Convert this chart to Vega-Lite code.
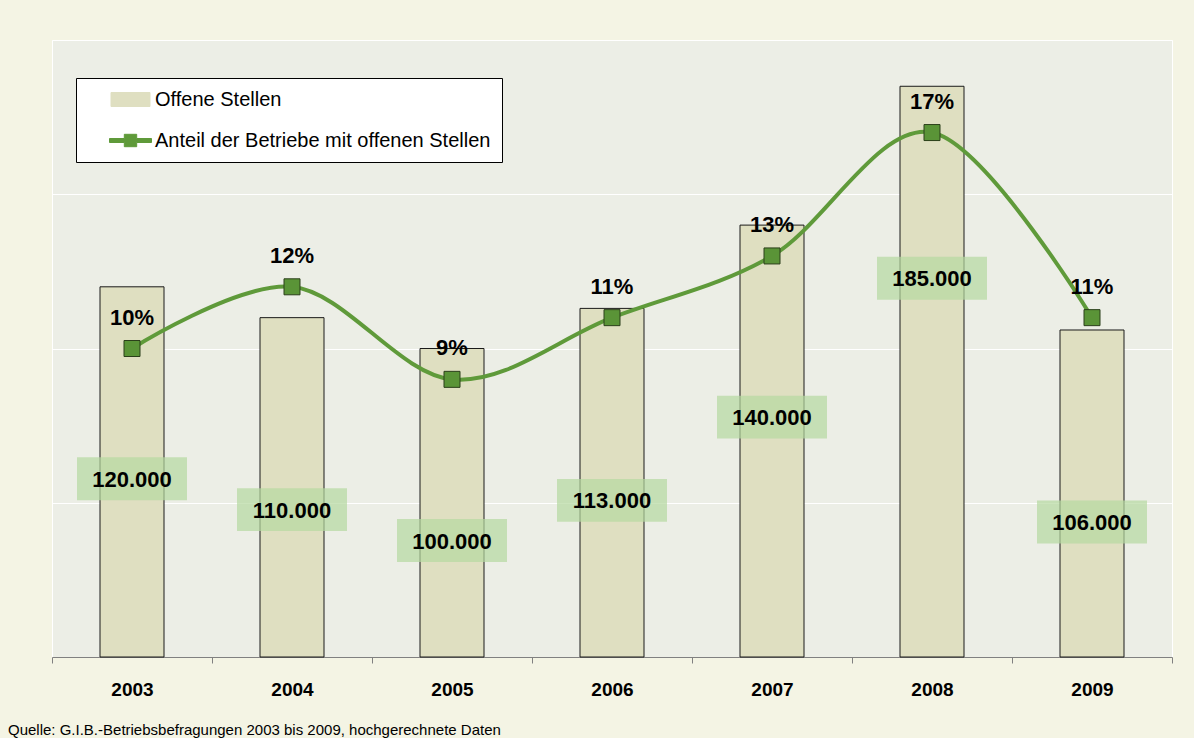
{
  "$schema": "https://vega.github.io/schema/vega-lite/v6.json",
  "width": 1120,
  "height": 617,
  "padding": {"left": 8, "top": 40, "right": 22, "bottom": 0},
  "background": "#f4f4e4",
  "config": {
    "locale": {"number": {"decimal": ",", "thousands": ".", "grouping": [3], "currency": ["", " €"]}},
    "font": "Liberation Sans",
    "view": {"fill": "#eceee6", "stroke": "white", "strokeWidth": 1},
    "legend": {
      "orient": "none",
      "legendX": 24,
      "legendY": 38,
      "fillColor": "white",
      "strokeColor": "black",
      "padding": 11,
      "rowPadding": 20,
      "labelFontSize": 20,
      "labelFont": "Liberation Sans",
      "labelColor": "black",
      "labelLimit": 800,
      "symbolOffset": 33,
      "labelOffset": 14,
      "symbolSize": 400,
      "symbolStrokeWidth": 1,
      "symbolOpacity": 1,
      "symbolType": {"expr": "datum.value == 'Offene Stellen' ? 'M-1.95,-0.7H1.95V0.7H-1.95Z' : 'M-2.1,-0.2H-0.62V-0.62H0.62V-0.2H2.1V0.2H0.62V0.62H-0.62V0.2H-2.1Z'"},
      "symbolStrokeColor": {"expr": "datum.value == 'Offene Stellen' ? '#222222' : '#3a5e25'"}
    }
  },
  "title": {
    "text": "Quelle: G.I.B.-Betriebsbefragungen 2003 bis 2009, hochgerechnete Daten",
    "orient": "bottom",
    "anchor": "start",
    "frame": "group",
    "offset": 31,
    "dx": -44,
    "fontSize": 15,
    "fontWeight": "normal",
    "color": "black",
    "font": "Liberation Sans",
    "baseline": "middle"
  },
  "data": {
    "values": [
      {"jahr": "2003", "stellen": 120000, "anteil": 0.10},
      {"jahr": "2004", "stellen": 110000, "anteil": 0.12},
      {"jahr": "2005", "stellen": 100000, "anteil": 0.09},
      {"jahr": "2006", "stellen": 113000, "anteil": 0.11},
      {"jahr": "2007", "stellen": 140000, "anteil": 0.13},
      {"jahr": "2008", "stellen": 185000, "anteil": 0.17},
      {"jahr": "2009", "stellen": 106000, "anteil": 0.11}
    ]
  },
  "encoding": {
    "x": {
      "field": "jahr",
      "type": "nominal",
      "scale": {"paddingInner": 0, "paddingOuter": 0},
      "axis": {
        "title": null,
        "labelAngle": 0,
        "labelFontSize": 19,
        "labelFontWeight": "bold",
        "labelColor": "black",
        "labelFont": "Liberation Sans",
        "labelBaseline": "middle",
        "labelAlign": "center",
        "labelPadding": 26,
        "tickBand": "extent",
        "tickSize": 6,
        "tickColor": "#808080",
        "domainColor": "#808080",
        "grid": false
      }
    }
  },
  "layer": [
    {
      "mark": {"type": "bar", "width": {"band": 0.4}, "stroke": "#1a1a1a", "strokeWidth": 1},
      "encoding": {
        "y": {
          "field": "stellen",
          "type": "quantitative",
          "scale": {"domain": [0, 200000], "nice": false},
          "axis": {
            "title": null,
            "labels": false,
            "ticks": false,
            "domain": false,
            "grid": true,
            "gridColor": "white",
            "gridWidth": 1,
            "gridOpacity": 1,
            "values": [50000, 100000, 150000, 200000]
          }
        },
        "color": {
          "datum": "Offene Stellen",
          "scale": {
            "domain": ["Offene Stellen", "Anteil der Betriebe mit offenen Stellen"],
            "range": ["#dfdfc1", "#5f9a3a"]
          },
          "legend": {"title": null}
        }
      }
    },
    {
      "mark": {"type": "point", "shape": "M-1,-0.39H1V0.39H-1Z", "size": 12100, "filled": true, "fill": "#b5d9a0", "opacity": 0.7, "strokeWidth": 0, "yOffset": 192},
      "encoding": {
        "y": {"field": "stellen", "type": "quantitative", "scale": {"domain": [0, 200000], "nice": false}, "axis": null}
      }
    },
    {
      "mark": {"type": "text", "dy": 193, "fontSize": 22, "fontWeight": "bold", "baseline": "middle", "align": "center", "color": "black", "font": "Liberation Sans"},
      "encoding": {
        "y": {"field": "stellen", "type": "quantitative", "scale": {"domain": [0, 200000], "nice": false}, "axis": null},
        "text": {"field": "stellen", "type": "quantitative", "format": ",d"}
      }
    },
    {
      "mark": {"type": "line", "interpolate": "cardinal", "tension": 0, "strokeWidth": 4},
      "encoding": {
        "y": {"field": "anteil", "type": "quantitative", "scale": {"domain": [0, 0.2], "nice": false}, "axis": null},
        "color": {"datum": "Anteil der Betriebe mit offenen Stellen", "legend": {"title": null}}
      }
    },
    {
      "mark": {"type": "point", "shape": "square", "size": 256, "filled": true, "fill": "#5a9437", "stroke": "#2b3f1a", "strokeWidth": 1, "opacity": 1},
      "encoding": {
        "y": {"field": "anteil", "type": "quantitative", "scale": {"domain": [0, 0.2], "nice": false}, "axis": null}
      }
    },
    {
      "mark": {"type": "text", "dy": -31, "fontSize": 22, "fontWeight": "bold", "baseline": "middle", "align": "center", "color": "black", "font": "Liberation Sans"},
      "encoding": {
        "y": {"field": "anteil", "type": "quantitative", "scale": {"domain": [0, 0.2], "nice": false}, "axis": null},
        "text": {"field": "anteil", "type": "quantitative", "format": ".0%"}
      }
    }
  ],
  "resolve": {"scale": {"y": "independent"}}
}
